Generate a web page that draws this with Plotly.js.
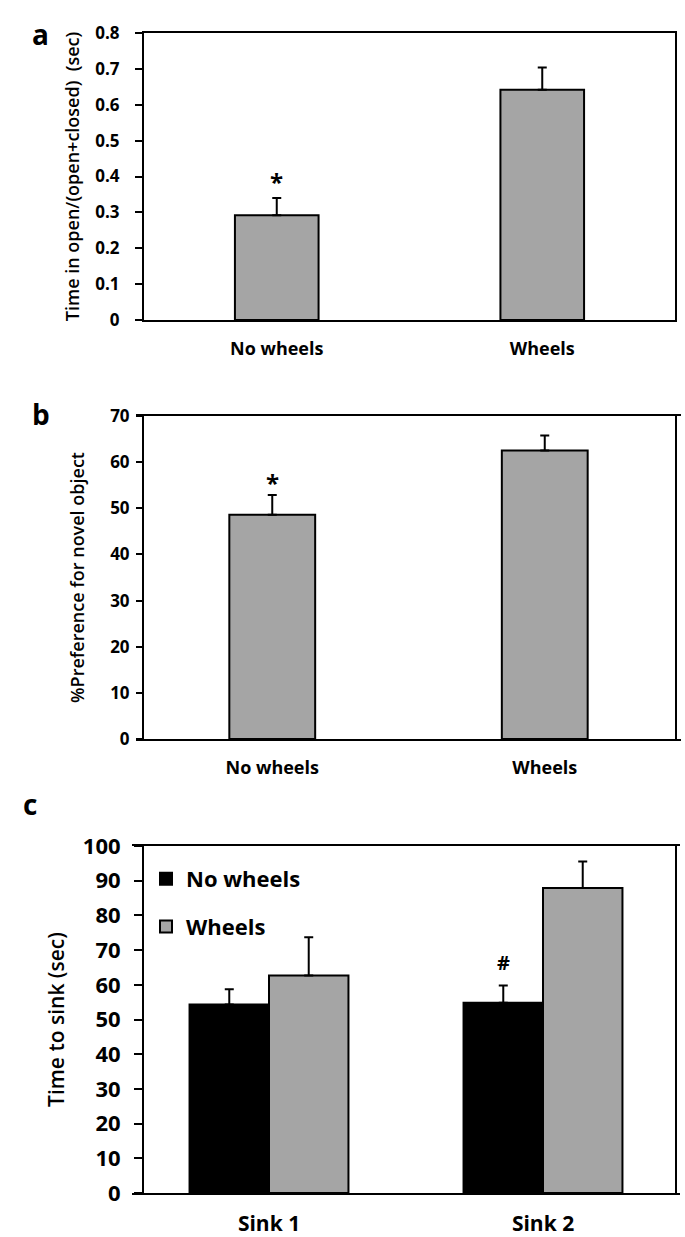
<!DOCTYPE html>
<html>
<head>
<meta charset="utf-8">
<script src="https://cdn.plot.ly/plotly-3.0.1.min.js"></script>
<style>html,body{margin:0;padding:0;background:#fff;}#chart{width:685px;height:1237px;}</style>
</head>
<body>
<div id="chart"></div>
<script>
// ---- data ----
const groupCats = ['No wheels', 'Wheels'];
const openRatio = [0.292, 0.642];
const openRatioErr = [0.048, 0.062];
const novelPref = [48.6, 62.5];
const novelPrefErr = [4.3, 3.3];
const sinkCats = ['Sink 1', 'Sink 2'];
const sinkNoWheels = [54.3, 54.8];
const sinkNoWheelsErr = [4.4, 5.0];
const sinkWheels = [62.7, 87.9];
const sinkWheelsErr = [11.0, 7.6];
const aTicks = [0, 0.1, 0.2, 0.3, 0.4, 0.5, 0.6, 0.7, 0.8];
const aTickText = ['0', '0.1', '0.2', '0.3', '0.4', '0.5', '0.6', '0.7', '0.8'];

const GRAY = '#a5a5a5';
const FONT = 'Open Sans, Lato, sans-serif';
const H = 1237, W = 685;
const px = v => v / W;
const py = v => 1 - v / H;

function errCfg(arr) {
  return {type: 'data', symmetric: false, array: arr, arrayminus: arr.map(() => 0),
          color: '#000', thickness: 2, width: 4.5};
}

const traces = [
  {type: 'bar', x: groupCats, y: openRatio, xaxis: 'x', yaxis: 'y', width: 0.315,
   marker: {color: GRAY, line: {color: '#000', width: 2}}, error_y: errCfg(openRatioErr), showlegend: false},
  {type: 'bar', x: groupCats, y: novelPref, xaxis: 'x2', yaxis: 'y2', width: 0.315,
   marker: {color: GRAY, line: {color: '#000', width: 2}}, error_y: errCfg(novelPrefErr), showlegend: false},
  {type: 'bar', name: 'No wheels', x: sinkCats, y: sinkNoWheels, xaxis: 'x3', yaxis: 'y3', legendgroup: 'g1',
   marker: {color: '#000', line: {color: '#000', width: 2}}, error_y: errCfg(sinkNoWheelsErr)},
  {type: 'bar', name: 'Wheels', x: sinkCats, y: sinkWheels, xaxis: 'x3', yaxis: 'y3', legendgroup: 'g2',
   marker: {color: GRAY, line: {color: '#000', width: 2}}, error_y: errCfg(sinkWheelsErr)}
];

function yax(dom, range, dtick, tickSize, ticklen, standoff, title, titleSize, titleStandoff) {
  return {domain: dom, range: range, dtick: dtick, showgrid: false, zeroline: false,
          showline: true, linecolor: '#000', linewidth: 2, mirror: true,
          ticks: 'outside', ticklen: ticklen, tickwidth: 2, tickcolor: '#000',
          ticklabelstandoff: standoff,
          tickfont: {family: FONT, size: tickSize, color: '#000', weight: 'bold'},
          title: {text: title, font: {family: FONT, size: titleSize, color: '#000', weight: 600}, standoff: titleStandoff},
          fixedrange: true};
}
function xax(dom, anchor, fontSize) {
  return {domain: dom, anchor: anchor, showgrid: false, zeroline: false, showline: true,
          linecolor: '#000', linewidth: 2, mirror: true, ticks: '',
          tickfont: {family: FONT, size: fontSize, color: '#000', weight: 'bold'},
          ticklabelstandoff: 11, fixedrange: true};
}

const layout = {
  width: W, height: H,
  margin: {l: 0, r: 0, t: 0, b: 0},
  paper_bgcolor: '#fff', plot_bgcolor: '#fff',
  barmode: 'group', bargap: 0.42,
  font: {family: FONT, color: '#000'},
  xaxis: xax([px(144), px(675)], 'y', 18),
  yaxis: Object.assign(yax([py(320), py(33)], [0, 0.8], 0.1, 17, 7, 12, 'Time in open/(open+closed)  (sec)', 18, 11),
                      {tickvals: aTicks, ticktext: aTickText}),
  xaxis2: xax([px(136), px(681)], 'y2', 18),
  yaxis2: yax([py(739), py(416)], [0, 70], 10, 17, 6, 3, '%Preference for novel object', 18, 21),
  xaxis3: xax([px(132), px(680)], 'y3', 21),
  yaxis3: yax([py(1193), py(846)], [0, 100], 10, 22, 8, 9, 'Time to sink (sec)', 21, 12),
  showlegend: true,
  legend: {x: px(146), y: py(858), xanchor: 'left', yanchor: 'top', bgcolor: 'rgba(0,0,0,0)',
           traceorder: 'grouped', tracegroupgap: 16,
           font: {family: FONT, size: 22, color: '#000', weight: 'bold'}},
  annotations: [
    {text: '<b>a</b>', xref: 'paper', yref: 'paper', x: px(30), y: py(13), showarrow: false, font: {family: FONT, size: 28, color: '#000'}},
    {text: '<b>b</b>', xref: 'paper', yref: 'paper', x: px(30), y: py(414), showarrow: false, font: {family: FONT, size: 28, color: '#000'}},
    {text: '<b>c</b>', xref: 'paper', yref: 'paper', x: px(21), y: py(825), showarrow: false, font: {family: FONT, size: 28, color: '#000'}},
    {text: '<b>*</b>', xref: 'x', yref: 'y', x: 'No wheels', y: 0.385, showarrow: false, font: {family: FONT, size: 24, color: '#000'}},
    {text: '<b>*</b>', xref: 'x2', yref: 'y2', x: 'No wheels', y: 55.5, showarrow: false, font: {family: FONT, size: 24, color: '#000'}},
    {text: '<b>#</b>', xref: 'x3', yref: 'y3', x: 0.855, y: 66.5, showarrow: false, font: {family: FONT, size: 20, color: '#000'}}
  ]
};

Plotly.newPlot('chart', traces, layout, {staticPlot: true, displayModeBar: false});
</script>
</body>
</html>
